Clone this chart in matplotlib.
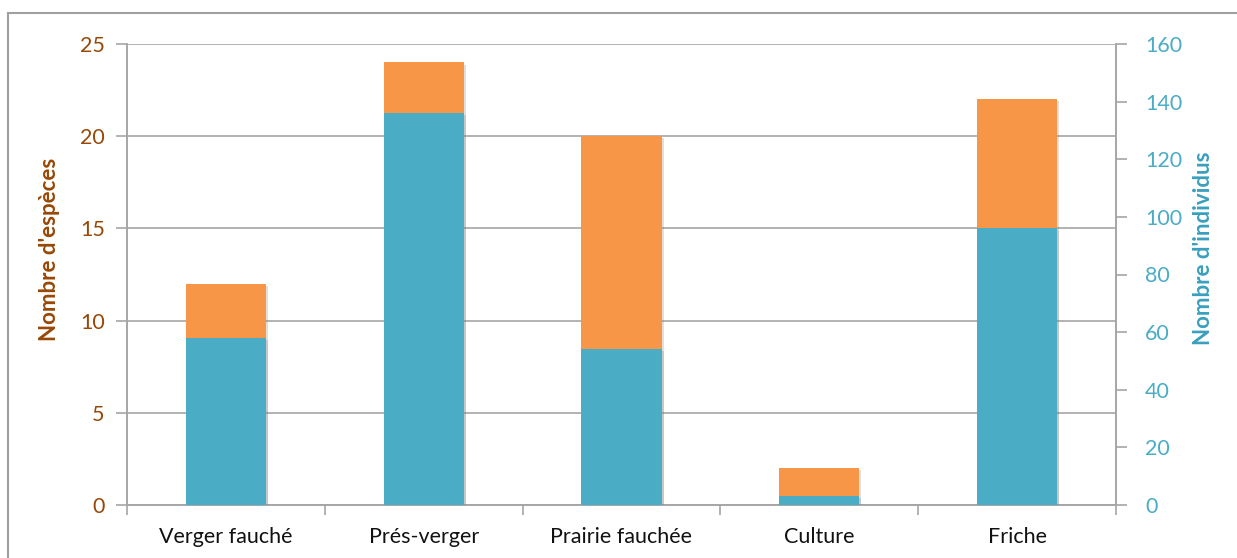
import matplotlib
matplotlib.use("Agg")
import matplotlib.pyplot as plt
from matplotlib.lines import Line2D
import matplotlib.patheffects as pe
import numpy as np

plt.rcParams['font.family'] = ['Lato', 'DejaVu Sans']

categories = ["Verger fauché", "Prés-verger", "Prairie fauchée", "Culture", "Friche"]
especes = [12, 24, 20, 2, 22]
individus = [58, 136, 54, 3, 96]
left_ticks = [0, 5, 10, 15, 20, 25]
right_ticks = [0, 20, 40, 60, 80, 100, 120, 140, 160]

orange = "#F79646"
blue = "#4BACC6"
brown = "#984807"
teal_label = "#3A9FBD"
grid_col = "#A6A6A6"

W, H = 1237, 558
fig = plt.figure(figsize=(W / 100, H / 100), dpi=100)
ax = fig.add_axes([127 / W, 1 - 505 / H, (1116 - 127) / W, (505 - 44) / H])
ax2 = ax.twinx()

x = np.arange(len(categories))
shadow = [pe.SimplePatchShadow(offset=(1.5, -1.5), alpha=0.25, shadow_rgbFace="#808080"), pe.Normal()]
ax.bar(x, especes, width=0.405, color=orange, zorder=3, path_effects=shadow)
ax2.bar(x, individus, width=0.405, color=blue, zorder=3, path_effects=shadow)

ax.set_xlim(-0.5, len(categories) - 0.5)
ax.set_ylim(0, 25)
ax2.set_ylim(0, 160)
ax.set_yticks(left_ticks)
ax2.set_yticks(right_ticks)
ax.yaxis.grid(True, color=grid_col, linewidth=1.2, zorder=0)
ax.set_axisbelow(True)

ax.set_xticks(x)
ax.set_xticklabels(categories, fontsize=15.5, color="#111111")
ax.set_xticks(np.arange(-0.5, len(categories)), minor=True)
ax.tick_params(axis='x', which='major', length=0, pad=16)
ax.tick_params(axis='x', which='minor', length=7, color=grid_col, width=1.2, direction='out')

ax.tick_params(axis='y', length=8, color=grid_col, width=1.2, labelsize=15.5, labelcolor=brown, pad=8)
ax2.tick_params(axis='y', length=8, color=grid_col, width=1.2, labelsize=15.5, labelcolor=blue, pad=13)

for a in (ax, ax2):
    for side in ("left", "right", "bottom"):
        a.spines[side].set_color(grid_col)
        a.spines[side].set_linewidth(1.2)
    a.spines["top"].set_visible(False)

# axis titles
fig.text(50 / W, 1 - 249.5 / H, "Nombre d'espèces", rotation=90, ha='center', va='center',
         fontsize=16, fontweight='bold', color=brown)
fig.text(1204 / W, 1 - 248.5 / H, "Nombre d'individus", rotation=90, ha='center', va='center',
         fontsize=16, fontweight='bold', color=teal_label)

# chart-area frame
fig.add_artist(Line2D([8 / W, 1.0], [1 - 13 / H, 1 - 13 / H], color="#A0A0A0", linewidth=1.5, transform=fig.transFigure))
fig.add_artist(Line2D([8 / W, 8 / W], [0, 1 - 13 / H], color="#A0A0A0", linewidth=1.5, transform=fig.transFigure))

fig.savefig("out.png", dpi=100, facecolor="white")
